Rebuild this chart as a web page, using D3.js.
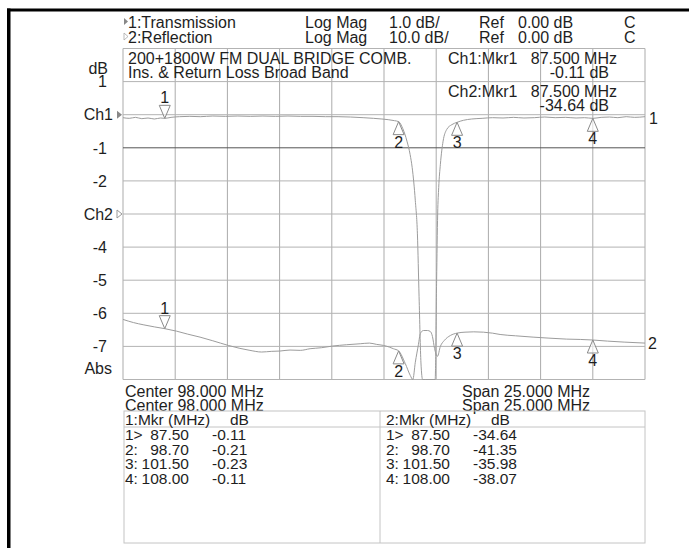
<!DOCTYPE html>
<html><head><meta charset="utf-8">
<script src="https://cdn.jsdelivr.net/npm/d3@7"></script>
<style>
html,body{margin:0;padding:0;background:#fff;}
svg text{font-family:"Liberation Sans",Arial,Helvetica,sans-serif;font-size:16px;fill:#1e1e1e;}
svg .tbl text{font-size:15.5px;}
</style></head>
<body><svg id="chart" width="689" height="548"></svg>
<script>
// ---------- data ----------
const freqCh1 = [85.5,85.8,86.1,86.4,86.7,87.0,87.3,87.5,87.8,88.2,88.7,89.2,89.8,90.4,91.0,91.6,92.2,92.8,93.4,94.0,94.6,95.2,95.8,96.4,97.0,97.5,97.9,98.2,98.5,98.7,98.9,99.1,99.25,99.35,99.5,99.6,99.68,99.77,99.85,100.0,100.2,100.35,100.45,100.52,100.57,100.62,100.7,100.83,101.0,101.25,101.5,101.8,102.2,102.7,103.2,103.7,104.2,104.7,105.2,105.7,106.2,106.7,107.2,107.6,108.0,108.4,108.8,109.2,109.6,110.0,110.5];
const ch1dB = [-0.09,-0.11,-0.08,-0.12,-0.10,-0.13,-0.10,-0.11,-0.08,-0.06,-0.05,-0.06,-0.04,-0.05,-0.04,-0.05,-0.04,-0.05,-0.04,-0.05,-0.05,-0.06,-0.06,-0.07,-0.09,-0.11,-0.13,-0.15,-0.18,-0.21,-0.42,-0.8,-1.2,-1.6,-2.6,-3.6,-5.5,-7.5,-10,-20,-30,-20,-10,-5,-3,-2.2,-1.5,-0.8,-0.45,-0.3,-0.23,-0.17,-0.13,-0.11,-0.09,-0.10,-0.08,-0.10,-0.09,-0.07,-0.09,-0.08,-0.10,-0.09,-0.11,-0.08,-0.07,-0.09,-0.06,-0.08,-0.06];
const freqCh2 = [85.5,86.0,86.5,87.0,87.5,88.07,88.6,89.19,89.8,90.54,91.1,91.58,92.14,92.6,93.02,93.5,93.99,94.46,95.0,95.53,96.2,96.86,97.3,97.65,97.97,98.25,98.45,98.7,99.02,99.26,99.38,99.5,99.65,99.74,99.89,100.08,100.22,100.32,100.42,100.56,100.7,100.89,101.18,101.5,101.88,102.3,102.76,103.2,103.56,104.3,105.14,105.9,106.75,107.4,108.0,108.7,109.5,110.5];
const ch2dB = [-31.85,-32.8,-33.5,-34.1,-34.64,-35.4,-36.3,-37.2,-38.3,-39.7,-40.6,-41.2,-41.7,-41.5,-41.4,-41.1,-41.2,-40.7,-40.4,-39.9,-39.5,-39.2,-39.0,-39.4,-39.7,-40.2,-40.7,-41.35,-45.2,-48.8,-51,-44.8,-39.4,-36.1,-35.2,-35.2,-35.5,-37,-40.6,-43,-40,-38.2,-36.7,-35.98,-35.7,-35.6,-35.7,-36.0,-36.4,-36.8,-37.2,-37.5,-37.8,-37.9,-38.07,-38.4,-38.7,-39.0];

const markerIds = ["1","2","3","4"];
const markerFreqs = [87.5, 98.7, 101.5, 108.0];
const ch1MarkerDB = [-0.11, -0.21, -0.23, -0.11];
const ch2MarkerDB = [-34.64, -41.35, -35.98, -38.07];
const markerFreqText = ["87.50","98.70","101.50","108.00"];
const ch1MarkerText = ["-0.11","-0.21","-0.23","-0.11"];
const ch2MarkerText = ["-34.64","-41.35","-35.98","-38.07"];

const gridValues = [2,1,0,-1,-2,-3,-4,-5,-6,-7,-8];
const gridLabels = ["","1","Ch1","-1","-2","Ch2","-4","-5","-6","-7","Abs"];
const freqStart = 85.5, freqStop = 110.5, freqDiv = 2.5;

const ch1Scale = 1.0, ch1RefDiv = 0;   // 1 dB/div, ref at Ch1 line
const ch2Scale = 10.0, ch2RefDiv = -3; // 10 dB/div, ref at Ch2 line

// ---------- layout ----------
const svg = d3.select("#chart");
const L = 123, R = 645, T = 48.5, B = 379.5;
const x = d3.scaleLinear().domain([freqStart, freqStop]).range([L, R]);
const y = d3.scaleLinear().domain([-8, 2]).range([B, T]);
const clampG = g => Math.max(-8, Math.min(2, g));
const g1 = d => clampG(ch1RefDiv + d / ch1Scale);
const g2 = d => clampG(ch2RefDiv + d / ch2Scale);

svg.append("rect").attr("width",689).attr("height",548).attr("fill","#fff");
// black frame lines
svg.append("rect").attr("x",7).attr("y",8.5).attr("width",682).attr("height",3).attr("fill","#000");
svg.append("rect").attr("x",7).attr("y",8.5).attr("width",3.5).attr("height",540).attr("fill","#000");

// grid
const xTicks = d3.range(freqStart, freqStop + 0.001, freqDiv);
const grid = svg.append("g");
grid.selectAll("line.v").data(xTicks).join("line")
  .attr("x1", d => x(d)).attr("x2", d => x(d)).attr("y1", T).attr("y2", B)
  .attr("stroke", "#ababab").attr("stroke-width", 1);
grid.selectAll("line.h").data(gridValues).join("line")
  .attr("x1", L).attr("x2", R).attr("y1", d => y(d)).attr("y2", d => y(d))
  .attr("stroke", d => d === -1 ? "#555" : "#b3b3b3").attr("stroke-width", 1);

// left labels
const lab = svg.append("g");
gridValues.forEach((v, i) => {
  const t = gridLabels[i];
  if (!t) return;
  let yy = y(v) + 5.7, xx = 107;
  if (t === "Abs") { yy = 373.5; xx = 112; }
  if (t === "Ch1" || t === "Ch2") xx = 113;
  lab.append("text").attr("x", xx).attr("y", yy).attr("text-anchor","end").text(t);
});
lab.append("text").attr("x", 108).attr("y", 73.5).attr("text-anchor","end").text("dB");
// channel arrows
lab.append("path").attr("d", `M117,${y(0)-4}L122,${y(0)}L117,${y(0)+4}Z`).attr("fill","#888");
lab.append("path").attr("d", `M117,${y(-3)-4}L122,${y(-3)}L117,${y(-3)+4}Z`).attr("fill","#fff").attr("stroke","#999");

// header
const hdr = svg.append("g");
hdr.append("path").attr("d","M124,18L128,21.5L124,25Z").attr("fill","#888");
hdr.append("path").attr("d","M124,33L128,36.5L124,40Z").attr("fill","#fff").attr("stroke","#aaa").attr("stroke-width",0.8);
const hdrRows = [
  ["1:Transmission","Log Mag","1.0 dB/","Ref","0.00 dB","C"],
  ["2:Reflection","Log Mag","10.0 dB/","Ref","0.00 dB","C"]
];
const hdrX = [128, 305, 389, 479, 518, 624];
hdrRows.forEach((row, r) => {
  row.forEach((t, c) => {
    hdr.append("text").attr("x", hdrX[c]).attr("y", 27.5 + r * 15.2).text(t);
  });
});

// annotation text on grid
const ann = svg.append("g");
ann.append("text").attr("x",128).attr("y",63.5).text("200+1800W FM DUAL BRIDGE COMB.");
ann.append("text").attr("x",128).attr("y",77.5).text("Ins. & Return Loss Broad Band");
ann.append("text").attr("x",448).attr("y",63.5).text("Ch1:Mkr1");
ann.append("text").attr("x",617).attr("y",63.5).attr("text-anchor","end").text(markerFreqs[0].toFixed(3) + " MHz");
ann.append("text").attr("x",609).attr("y",77.5).attr("text-anchor","end").text(ch1MarkerDB[0].toFixed(2) + " dB");
ann.append("text").attr("x",448).attr("y",97.2).text("Ch2:Mkr1");
ann.append("text").attr("x",617).attr("y",97.2).attr("text-anchor","end").text(markerFreqs[0].toFixed(3) + " MHz");
ann.append("text").attr("x",609).attr("y",110.8).attr("text-anchor","end").text(ch2MarkerDB[0].toFixed(2) + " dB");

// traces
const line = d3.line().curve(d3.curveMonotoneX);
const pts1 = freqCh1.map((f, i) => [x(f), y(g1(ch1dB[i]))]);
const pts2 = freqCh2.map((f, i) => [x(f), y(g2(ch2dB[i]))]);
svg.append("path").attr("d", line(pts2)).attr("fill","none").attr("stroke","#9c9c9c").attr("stroke-width",1);
svg.append("path").attr("d", line(pts1)).attr("fill","none").attr("stroke","#9c9c9c").attr("stroke-width",1);

// trace end labels
svg.append("text").attr("x",649).attr("y", y(g1(ch1dB[ch1dB.length-1])) + 7).text("1");
svg.append("text").attr("x",648).attr("y", y(g2(ch2dB[ch2dB.length-1])) + 6).text("2");

// markers
function drawMarkers(vals, gfn) {
  const g = svg.append("g");
  markerFreqs.forEach((f, i) => {
    const mx = x(f), my = y(gfn(vals[i]));
    if (i === 0) {
      g.append("path").attr("d", `M${mx},${my}L${mx-5.5},${my-13}L${mx+5.5},${my-13}Z`)
        .attr("fill","#fff").attr("fill-opacity",0.6).attr("stroke","#8a8a8a");
      g.append("text").attr("x", mx).attr("y", my - 15).attr("text-anchor","middle").text(markerIds[i]);
    } else {
      g.append("path").attr("d", `M${mx},${my}L${mx-5.5},${my+13}L${mx+5.5},${my+13}Z`)
        .attr("fill","#fff").attr("fill-opacity",0.6).attr("stroke","#8a8a8a");
      g.append("text").attr("x", mx).attr("y", my + 26).attr("text-anchor","middle").text(markerIds[i]);
    }
  });
}
drawMarkers(ch1MarkerDB, g1);
drawMarkers(ch2MarkerDB, g2);

// bottom texts
const bt = svg.append("g");
["396.5","410.5"].forEach(yy => {
  bt.append("text").attr("x",125).attr("y",yy).text("Center " + ((freqStart+freqStop)/2).toFixed(3) + " MHz");
  bt.append("text").attr("x",462).attr("y",yy).text("Span " + (freqStop-freqStart).toFixed(3) + " MHz");
});

// marker table
const TL = 124, TR = 645, TT = 411, TB = 543, TM = 380;
const tb = svg.append("g").attr("class","tbl");
tb.append("rect").attr("x",TL).attr("y",TT).attr("width",TR-TL).attr("height",TB-TT).attr("fill","none").attr("stroke","#c4c4c4");
tb.append("line").attr("x1",TL).attr("x2",TR).attr("y1",427).attr("y2",427).attr("stroke","#c4c4c4");
tb.append("line").attr("x1",TM).attr("x2",TM).attr("y1",TT).attr("y2",TB).attr("stroke","#c4c4c4");
const tables = [[TL+1, "1", ch1MarkerText],[TM+6, "2", ch2MarkerText]];
tables.forEach(([cx, ch, vals]) => {
  tb.append("text").attr("x",cx).attr("y",424.5).text(ch + ":Mkr (MHz)");
  tb.append("text").attr("x",cx+105).attr("y",424.5).text("dB");
  markerIds.forEach((id, i) => {
    const yy = 440 + i * 14.5;
    tb.append("text").attr("x",cx).attr("y",yy).text(id + (i === 0 ? ">" : ":"));
    tb.append("text").attr("x",cx+64).attr("y",yy).attr("text-anchor","end").text(markerFreqText[i]);
    tb.append("text").attr("x",cx+87).attr("y",yy).text(vals[i]);
  });
});
</script></body></html>
